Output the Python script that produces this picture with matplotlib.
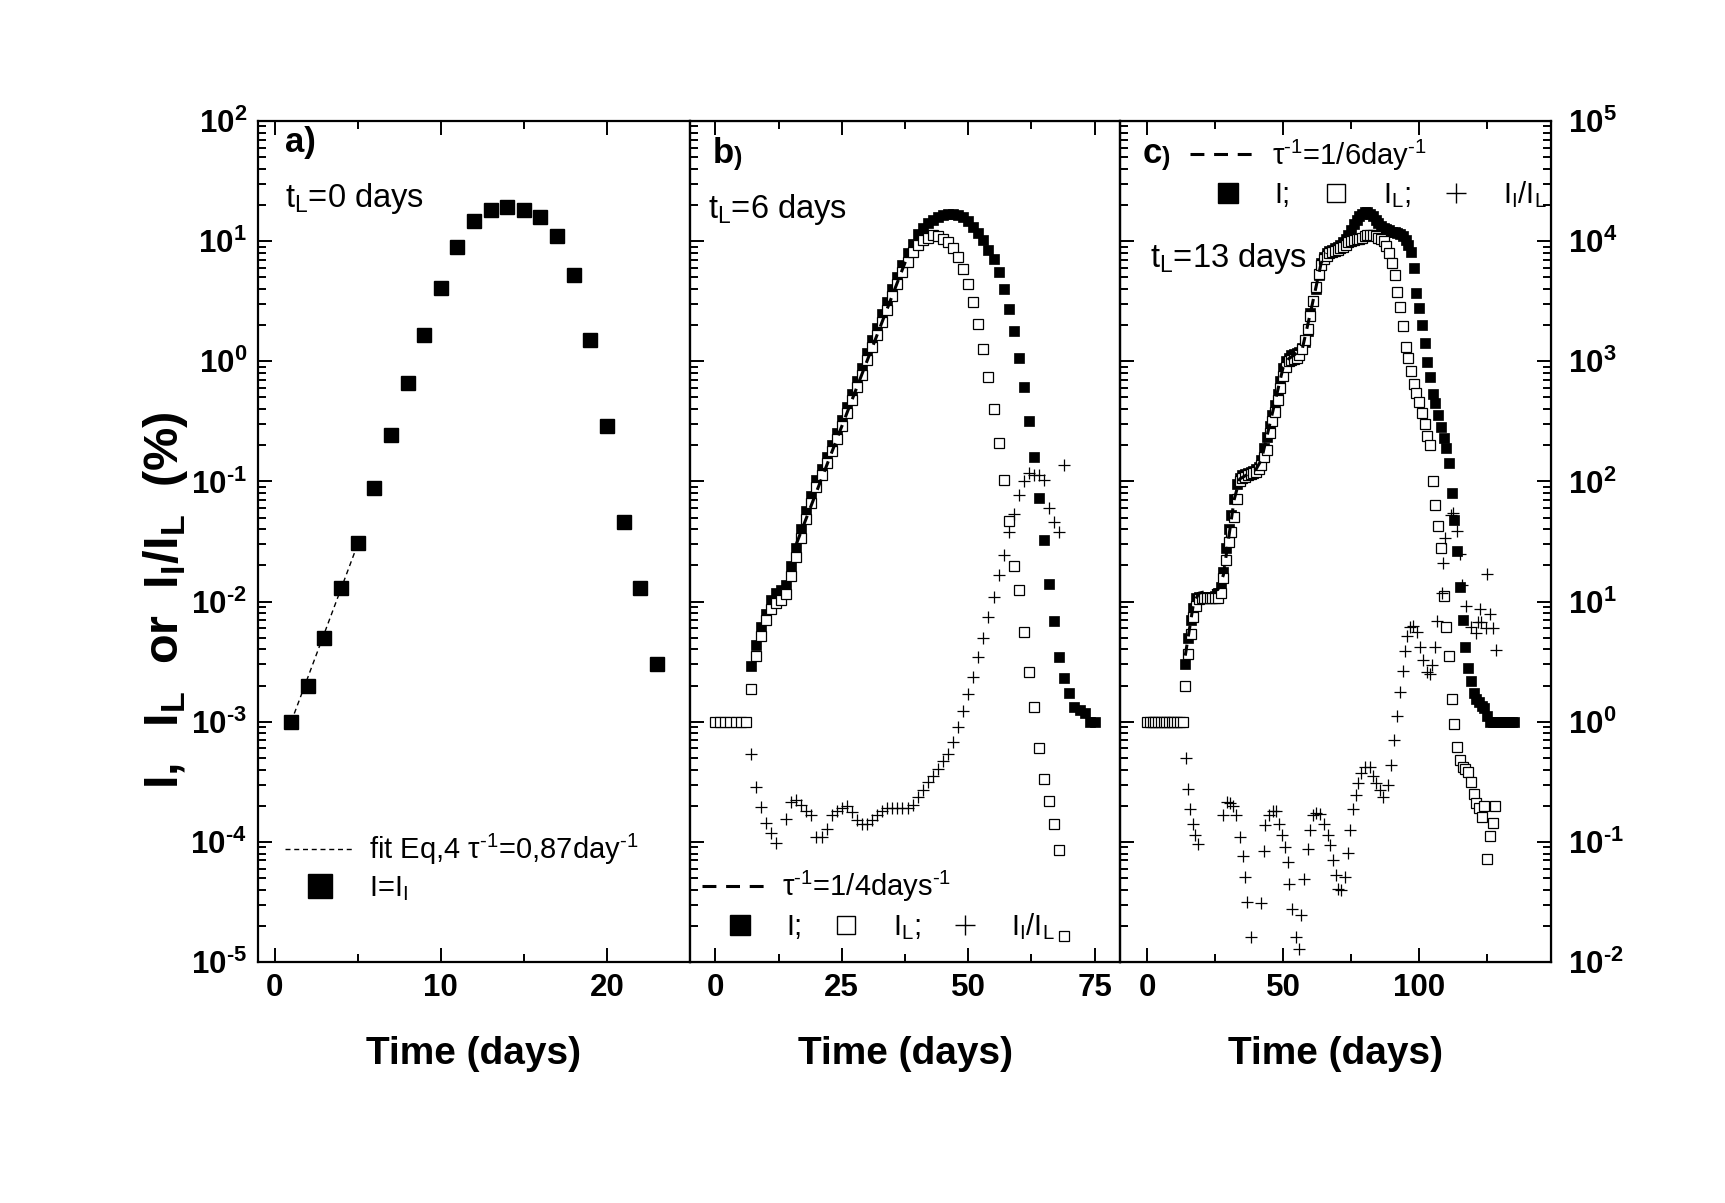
import numpy as np
import matplotlib
matplotlib.use("Agg")
import matplotlib.pyplot as plt
from matplotlib import font_manager
from matplotlib.lines import Line2D
from matplotlib.legend import Legend
from matplotlib.ticker import MultipleLocator, LogLocator, NullFormatter, NullLocator

names = {f.name for f in font_manager.fontManager.ttflist}
narrow = "Liberation Sans Narrow" in names
base = "Liberation Sans"
plt.rcParams["font.family"] = [base, "DejaVu Sans"]
plt.rcParams["mathtext.fontset"] = "custom"
plt.rcParams["mathtext.rm"] = base
plt.rcParams["mathtext.it"] = base + ":italic"
plt.rcParams["mathtext.bf"] = base + ":bold"
plt.rcParams["mathtext.sf"] = base + ":bold"
plt.rcParams["lines.scale_dashes"] = False

HY = "\u2010"  # short hyphen for superscript exponents

# ---------------- data ----------------
# panel a: t_L = 0 days
a_t = list(range(1, 24))
a_I = [1.0e-3, 2.0e-3, 5.0e-3, 1.3e-2, 3.1e-2, 8.8e-2, 0.245, 0.66, 1.65, 4.1,
       8.9, 14.8, 18.3, 19.2, 18.3, 15.8, 11.1, 5.2, 1.5, 0.29, 0.046, 0.013, 0.003]
fit_a_t = [1, 5]
fit_a_I = [1.0e-3, 3.0e-2]

# panel b: t_L = 6 days (values as log10 of %)
b_I_t = np.arange(7, 76)
b_I_log10 = [-2.54, -2.36, -2.21, -2.10, -1.99, -1.93, -1.90, -1.86, -1.70, -1.55,
             -1.40, -1.25, -1.12, -0.99, -0.90, -0.80, -0.70, -0.60, -0.49, -0.38,
             -0.27, -0.16, -0.06, 0.07, 0.18, 0.28, 0.39, 0.49, 0.60, 0.70,
             0.80, 0.90, 0.98, 1.06, 1.11, 1.15, 1.18, 1.20, 1.22, 1.23,
             1.23, 1.22, 1.20, 1.17, 1.12, 1.07, 1.01, 0.93, 0.85, 0.745,
             0.60, 0.435, 0.25, 0.03, -0.21, -0.495, -0.80, -1.14, -1.49, -1.85,
             -2.16, -2.46, -2.635, -2.76, -2.88, -2.90, -2.93, -3.00, -3.00]
b_L_t = np.arange(0, 70)
b_L_log10 = [-3.0, -3.0, -3.0, -3.0, -3.0, -3.0, -3.0,
             -2.73, -2.455, -2.29, -2.15, -2.06, -2.01, -1.99, -1.94, -1.79, -1.63,
             -1.47, -1.31, -1.18, -1.05, -0.95, -0.85, -0.75, -0.65, -0.54, -0.43,
             -0.32, -0.21, -0.11, 0.01, 0.12, 0.22, 0.33, 0.43, 0.54, 0.64,
             0.74, 0.83, 0.91, 0.97, 1.01, 1.03, 1.05, 1.045, 1.02, 0.99,
             0.94, 0.87, 0.77, 0.64, 0.49, 0.31, 0.10, -0.13, -0.40, -0.68,
             -0.99, -1.33, -1.70, -1.90, -2.25, -2.59, -2.88, -3.22, -3.48, -3.66,
             -3.85, -4.07, -4.78]
b_R_t = [7, 8, 9, 10, 11, 12] + list(range(14, 70))
b_R_log10 = [-0.265, -0.54, -0.71, -0.84, -0.93, -1.01,
             -0.81, -0.67, -0.65, -0.69, -0.74, -0.78, -0.96, -0.96, -0.89, -0.78,
             -0.74, -0.72, -0.70, -0.75, -0.82, -0.85, -0.85, -0.82, -0.78, -0.74,
             -0.72, -0.72, -0.72, -0.72, -0.72, -0.69, -0.63, -0.57, -0.50, -0.45,
             -0.39, -0.33, -0.27, -0.17, -0.04, 0.09, 0.23, 0.37, 0.54, 0.70,
             0.87, 1.04, 1.22, 1.39, 1.58, 1.73, 1.89, 2.00, 2.07, 2.05,
             2.05, 2.01, 1.775, 1.66, 1.58, 2.135]
fit_b_t = [16, 38]
fit_b_I = [0.030, 7.5]

# panel c: t_L = 13 days
c_I_t = np.arange(14, 136)
c_I_log10 = [-2.52, -2.30, -2.15, -2.05, -1.97, -1.96, -1.96, -1.96, -1.96, -1.96,
             -1.96, -1.95, -1.93, -1.88, -1.75, -1.55, -1.40, -1.28, -1.15, -1.02,
             -0.97, -0.95, -0.94, -0.93, -0.92, -0.91, -0.90, -0.88, -0.82, -0.72,
             -0.63, -0.54, -0.45, -0.36, -0.27, -0.16, -0.06, 0.00, 0.03, 0.05,
             0.06, 0.07, 0.08, 0.11, 0.16, 0.25, 0.40, 0.50, 0.60, 0.72,
             0.82, 0.87, 0.90, 0.92, 0.93, 0.94, 0.95, 0.97, 0.99, 1.02,
             1.05, 1.09, 1.14, 1.18, 1.21, 1.23, 1.24, 1.24, 1.23, 1.21,
             1.18, 1.15, 1.13, 1.11, 1.10, 1.09, 1.08, 1.08, 1.07, 1.06,
             1.04, 1.01, 0.97, 0.91, 0.78, 0.57, 0.44, 0.30, 0.15, -0.01,
             -0.13, -0.27, -0.35, -0.45, -0.55, -0.64, -0.72, -0.85, -1.10, -1.32,
             -1.58, -1.88, -2.15, -2.38, -2.55, -2.66, -2.76, -2.81, -2.84, -2.87,
             -2.89, -2.95, -3.0, -3.0, -3.0, -3.0, -3.0, -3.0, -3.0, -3.0, -3.0, -3.0]
c_L_t = np.arange(0, 129)
c_L_log10 = [-3.0, -3.0, -3.0, -3.0, -3.0, -3.0, -3.0, -3.0, -3.0, -3.0, -3.0, -3.0, -3.0, -3.0,
             -2.70, -2.44, -2.27, -2.13, -2.04, -1.98, -1.97, -1.97, -1.97, -1.97,
             -1.97, -1.97, -1.97, -1.93, -1.80, -1.65, -1.50, -1.42, -1.30, -1.15,
             -1.00, -0.97, -0.96, -0.95, -0.94, -0.93, -0.92, -0.90, -0.86, -0.80,
             -0.74, -0.60, -0.50, -0.42, -0.32, -0.22, -0.12, -0.05, 0.00, 0.01,
             0.02, 0.03, 0.05, 0.10, 0.18, 0.27, 0.38, 0.50, 0.62, 0.73,
             0.80, 0.85, 0.88, 0.90, 0.91, 0.92, 0.93, 0.94, 0.95, 0.97,
             0.99, 1.00, 1.01, 1.02, 1.02, 1.03, 1.04, 1.05, 1.05, 1.05,
             1.04, 1.03, 1.02, 1.00, 0.96, 0.90, 0.82, 0.72, 0.58, 0.45,
             0.29, 0.12, 0.03, -0.08, -0.19, -0.26, -0.34, -0.43, -0.52, -0.62,
             -0.70, -1.00, -1.20, -1.37, -1.55, -1.95, -2.21, -2.45, -2.81, -3.02,
             -3.21, -3.32, -3.38, -3.39, -3.42, -3.50, -3.60, -3.68, -3.72, -3.79,
             -3.70, -4.14, -3.95, -3.84, -3.70]
c_R_t = [14.1, 14.9, 15.8, 16.8, 17.7, 18.7, 27.8, 29.3, 30.3, 31.5, 32.7, 34.0, 35.2,
         35.8, 36.7, 38.0, 42.0, 42.8, 43.5, 44.7, 46.2, 47.4, 48.6, 49.6, 50.5, 51.7,
         52.3, 53.3, 54.8, 56.0, 56.6, 57.6, 59.1, 59.7, 60.9, 62.2, 63.4, 65.2, 66.4,
         67.1, 68.3, 69.5, 70.2, 71.4, 72.6, 73.8, 74.7, 75.7, 76.7, 77.5, 78.8, 80.0,
         81.8, 83.1, 84.3, 85.5, 86.8, 88.6, 89.8, 90.7, 91.7, 92.9, 93.9, 94.8, 95.4,
         96.6, 97.8, 99.1, 100.3, 101.5, 102.8, 104.0, 104.6, 105.8, 106.7, 108.4,
         108.7, 109.6, 111.7, 112.6, 113.9, 115.2, 115.8, 117.1, 119.2, 120.8, 121.6,
         122.4, 122.6, 124.5, 125.1, 126.1, 127.3, 128.1]
c_R_log10 = [-0.30, -0.556, -0.73, -0.85, -0.94, -1.02, -0.78, -0.67, -0.68, -0.70, -0.78,
             -0.96, -1.12, -1.29, -1.50, -1.79, -1.51, -1.08, -0.86, -0.78, -0.74, -0.74,
             -0.85, -0.94, -1.04, -1.17, -1.35, -1.555, -1.79, -1.89, -1.61, -1.31, -1.06,
             -0.90, -0.78, -0.76, -0.77, -0.85, -0.94, -1.03, -1.15, -1.28, -1.39, -1.40,
             -1.29, -1.09, -0.90, -0.73, -0.61, -0.51, -0.43, -0.38, -0.38, -0.45, -0.51,
             -0.57, -0.63, -0.53, -0.36, -0.155, 0.045, 0.25, 0.42, 0.59, 0.71, 0.79,
             0.80, 0.75, 0.62, 0.51, 0.415, 0.40, 0.47, 0.62, 0.84, 1.07, 1.32, 1.525,
             1.72, 1.74, 1.59, 1.40, 1.14, 0.96, 0.79, 0.74, 0.83, 0.94, 0.83, 0.78,
             1.23, 0.90, 0.78, 0.60]
fit_c_t = [14, 17, 19, 21, 26, 28, 32, 34, 40, 42, 50, 52, 57, 60, 64, 66]
fit_c_log10 = [-2.45, -2.02, -1.93, -1.92, -1.90, -1.78, -1.15, -0.98, -0.90, -0.82,
               -0.05, 0.02, 0.10, 0.40, 0.82, 0.90]

left_exps = list(range(-5, 3))
right_exps = list(range(-2, 6))

# ---------------- figure ----------------
W, H = 1725, 1203
fig = plt.figure(figsize=(W / 100, H / 100), dpi=100)
Y0, Y1 = 962, 121


def box(x0, x1):
    return [x0 / W, 1 - Y0 / H, (x1 - x0) / W, (Y0 - Y1) / H]


def exp_label(k):
    s = str(k).replace("-", HY)
    return r"$\mathbf{10^{%s}}$" % s


ax_a = fig.add_axes(box(258, 690))
ax_b = fig.add_axes(box(690, 1120))
ax_c = fig.add_axes(box(1120, 1551))

TICK = 22.5
ANN = 21
decades = [10.0 ** k for k in left_exps]
dec_labels = [exp_label(k) for k in left_exps]
xlab_font = dict(family="Liberation Sans Narrow" if narrow else base,
                 size=33 if narrow else 28, weight="bold")

xsetup = {ax_a: ((-1, 25), [0, 10, 20], 5),
          ax_b: ((-5, 80), [0, 25, 50, 75], 12.5),
          ax_c: ((-10, 148.5), [0, 50, 100], 25)}

for ax, (xl, xt, xm) in xsetup.items():
    ax.set_yscale("log")
    ax.set_ylim(1e-5, 1e2)
    ax.set_xlim(*xl)
    ax.set_xticks(xt, [str(v) for v in xt], fontsize=TICK, fontweight="bold")
    ax.xaxis.set_minor_locator(MultipleLocator(xm))
    ax.set_yticks(decades, dec_labels if ax is ax_a else [""] * len(decades), fontsize=TICK)
    ax.yaxis.set_minor_locator(LogLocator(base=10, subs=np.arange(2, 10), numticks=30))
    ax.yaxis.set_minor_formatter(NullFormatter())
    ax.tick_params(which="both", direction="in", top=True, bottom=True, left=True,
                   right=False, width=1.4)
    ax.tick_params(which="major", length=10, pad=8)
    ax.tick_params(which="minor", length=5.5)
    if ax is not ax_a:
        ax.tick_params(labelleft=False)
    for s in ax.spines.values():
        s.set_linewidth(1.6)
    ax.set_xlabel("Time (days)", fontdict=xlab_font, labelpad=24)

fig.text(166 / W, 1 - 600 / H, r"$\mathsf{I,\ \ I_L\ \ or\ \ I_I/I_L\ \ (\%)}$",
         rotation=90, ha="center", va="center", fontsize=35)

sq_fill = dict(marker="s", ms=7.2, mfc="black", mec="black", mew=0.5, ls="none")
sq_open = dict(marker="s", ms=7.2, mfc="white", mec="black", mew=0.9, ls="none")
plus = dict(marker="+", ms=8.5, mew=0.9, color="black", ls="none")

# ---- panel a ----
ax_a.plot(fit_a_t, fit_a_I, color="black", lw=1.0, dashes=(3.6, 2.7), zorder=2)
ax_a.plot(a_t, a_I, marker="s", ms=10, color="black", ls="none", zorder=3)

# ---- panel b ----
ax_b.plot(b_I_t, 10.0 ** np.array(b_I_log10), zorder=2, **sq_fill)
ax_b.plot(b_L_t, 10.0 ** np.array(b_L_log10), zorder=3, **sq_open)
ax_b.plot(fit_b_t, fit_b_I, color="black", lw=2.2, dashes=(8, 6), zorder=4)
tw_b = ax_b.twinx()
tw_b.set_yscale("log")
tw_b.set_ylim(1e-2, 1e5)
tw_b.yaxis.set_major_locator(NullLocator())
tw_b.yaxis.set_minor_locator(NullLocator())
tw_b.plot(b_R_t, 10.0 ** np.array(b_R_log10), **plus)

# ---- panel c ----
ax_c.plot(c_I_t, 10.0 ** np.array(c_I_log10), zorder=2, **sq_fill)
ax_c.plot(c_L_t, 10.0 ** np.array(c_L_log10), zorder=3, **sq_open)
ax_c.plot(fit_c_t, 10.0 ** np.array(fit_c_log10), color="black", lw=2.2,
          dashes=(8, 6), zorder=4)
tw_c = ax_c.twinx()
tw_c.set_yscale("log")
tw_c.set_ylim(1e-2, 1e5)
tw_c.set_yticks([10.0 ** k for k in right_exps], [exp_label(k) for k in right_exps],
                fontsize=TICK)
tw_c.yaxis.set_minor_locator(LogLocator(base=10, subs=np.arange(2, 10), numticks=30))
tw_c.yaxis.set_minor_formatter(NullFormatter())
tw_c.tick_params(which="both", direction="in", right=True, left=False, width=1.4)
tw_c.tick_params(which="major", length=10, pad=12)
tw_c.tick_params(which="minor", length=5.5)
tw_c.plot(c_R_t, 10.0 ** np.array(c_R_log10), **plus)

# ---- panel labels and texts ----
txt = dict(fontsize=23.5, fontweight="normal")
ax_a.text(0.0625, 0.963, "a)", transform=ax_a.transAxes, fontsize=25, fontweight="bold")
for ax, xb, yb, letter in [(ax_b, 0.0535, 0.9497, "b"), (ax_c, 0.0534, 0.950, "c")]:
    t1 = ax.text(xb, yb, letter, transform=ax.transAxes, fontsize=25, fontweight="bold")
    ax.annotate(")", xy=(1, 0), xycoords=t1, ha="left", va="bottom",
                fontsize=18, fontweight="bold")

ax_a.text(0.0625, 0.8977, r"t$_\mathrm{L}$=0 days", transform=ax_a.transAxes, **txt)
ax_b.text(0.042, 0.8843, r"t$_\mathrm{L}$=6 days", transform=ax_b.transAxes, **txt)
ax_c.text(0.0696, 0.8268, r"t$_\mathrm{L}$=13 days", transform=ax_c.transAxes, **txt)


# ---- legends ----
def row_legend(ax, handles, labels, x, y, **kw):
    leg = Legend(ax, handles, labels, loc="center left", bbox_to_anchor=(x, y),
                 bbox_transform=ax.transAxes, frameon=False, borderpad=0,
                 borderaxespad=0, prop={"size": ANN}, **kw)
    ax.add_artist(leg)
    return leg


m1 = "$^{%s1}$" % HY
h_fit_a = Line2D([], [], color="black", lw=1.0, dashes=(3.6, 2.7))
h_sq_a = Line2D([], [], marker="s", ms=17, color="black", ls="none")
row_legend(ax_a, [h_fit_a], ["fit Eq,4 τ%s=0,87day%s" % (m1, m1)], 0.0625, 0.134,
           handlelength=2.4, handletextpad=0.48)
row_legend(ax_a, [h_sq_a], [r"I=I$_\mathrm{I}$"], 0.0625, 0.087,
           handlelength=2.4, handletextpad=0.48)

h_dash = Line2D([], [], color="black", lw=2.2, dashes=(10, 7))
h_fill = Line2D([], [], marker="s", ms=14, mfc="black", mec="black", ls="none")
h_open = Line2D([], [], marker="s", ms=13, mfc="white", mec="black", mew=1.0, ls="none")
h_plus = Line2D([], [], marker="+", ms=15, mew=1.0, color="black", ls="none")
row_labels = ["I;", r"I$_\mathrm{L}$;", r"I$_\mathrm{I}$/I$_\mathrm{L}$"]

row_legend(ax_b, [h_dash], ["τ%s=1/4days%s" % (m1, m1)], 0.027, 0.0895,
           handlelength=2.17, handletextpad=0.57)
row_legend(ax_b, [h_fill, h_open, h_plus], row_labels, 0.065, 0.042, ncol=3,
           handlelength=1.5, handletextpad=0.85, columnspacing=0.75)

row_legend(ax_c, [h_dash], ["τ%s=1/6day%s" % (m1, m1)], 0.162, 0.9596,
           handlelength=2.17, handletextpad=0.65)
row_legend(ax_c, [h_fill, h_open, h_plus], row_labels, 0.2, 0.913, ncol=3,
           handlelength=1.5, handletextpad=0.85, columnspacing=0.8)

fig.savefig("out.png", dpi=100)
